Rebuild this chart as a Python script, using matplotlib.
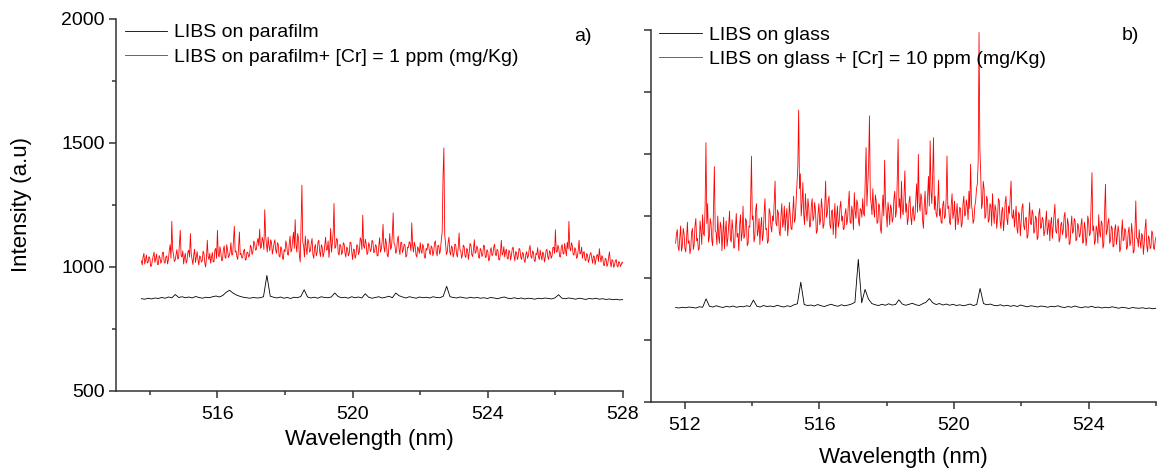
import numpy as np
import matplotlib.pyplot as plt

plt.rcParams['font.family'] = ['Liberation Sans', 'DejaVu Sans']

# a) parafilm spectra, 513.75 - 528 nm
wl_a_range = (513.75, 528.0)
red_a = [
    1025, 1008, 1040, 1055, 1012, 1030, 1048, 1016, 1020, 1042, 1035, 1002, 1005, 1028, 1044, 1060, 1018, 1035, 1052, 1010,
    1010, 1046, 1038, 1015, 1022, 1058, 1060, 1020, 1015, 1040, 1045, 1012, 1030, 1066, 1090, 1035, 1184, 1070, 1050, 1022,
    1028, 1050, 1070, 1032, 1035, 1090, 1148, 1045, 1040, 1065, 1012, 1038, 1055, 1015, 1025, 1060, 1068, 1040, 1135, 1052,
    1030, 1010, 1050, 1072, 1018, 1040, 1062, 1028, 1008, 1045, 1040, 1020, 1025, 1064, 1055, 1018, 1000, 1035, 1108, 1042,
    1030, 1055, 1015, 1040, 1058, 1020, 1022, 1068, 1075, 1035, 1148, 1050, 1040, 1082, 1060, 1025, 1028, 1070, 1085, 1040,
    1035, 1090, 1070, 1038, 1045, 1062, 1098, 1048, 1050, 1110, 1164, 1060, 1065, 1042, 1030, 1075, 1141, 1050, 1055, 1035,
    1040, 1065, 1072, 1028, 1030, 1060, 1058, 1040, 1045, 1088, 1080, 1050, 1062, 1105, 1095, 1068, 1070, 1100, 1115, 1085,
    1153, 1075, 1080, 1120, 1105, 1070, 1231, 1130, 1090, 1060, 1120, 1085, 1065, 1110, 1100, 1052, 1072, 1095, 1110, 1068,
    1055, 1098, 1090, 1045, 1040, 1082, 1075, 1035, 1030, 1070, 1062, 1105, 1088, 1050, 1048, 1095, 1125, 1060, 1070, 1110,
    1140, 1075, 1191, 1090, 1060, 1135, 1115, 1045, 1020, 1170, 1330, 1100, 1085, 1040, 1125, 1078, 1050, 1112, 1100, 1060,
    1065, 1095, 1115, 1050, 1035, 1078, 1090, 1045, 1058, 1100, 1108, 1062, 1042, 1090, 1080, 1040, 1055, 1085, 1120, 1068,
    1070, 1105, 1038, 1080, 1155, 1060, 1095, 1140, 1256, 1075, 1080, 1115, 1110, 1055, 1048, 1092, 1085, 1050, 1060, 1098,
    1092, 1055, 1040, 1080, 1075, 1045, 1055, 1100, 1098, 1060, 1030, 1072, 1070, 1035, 1048, 1090, 1085, 1050, 1062, 1118,
    1110, 1070, 1209, 1085, 1075, 1112, 1095, 1050, 1058, 1098, 1088, 1062, 1070, 1108, 1102, 1058, 1060, 1090, 1085, 1045,
    1045, 1085, 1118, 1060, 1072, 1105, 1172, 1080, 1060, 1115, 1095, 1048, 1040, 1090, 1135, 1070, 1080, 1128, 1218, 1095,
    1090, 1055, 1062, 1110, 1125, 1072, 1050, 1098, 1100, 1058, 1070, 1092, 1088, 1040, 1045, 1080, 1078, 1102, 1095, 1065,
    1178, 1088, 1060, 1100, 1085, 1048, 1040, 1082, 1072, 1055, 1098, 1065, 1055, 1092, 1080, 1040, 1035, 1075, 1068, 1095,
    1090, 1058, 1050, 1085, 1078, 1045, 1062, 1098, 1105, 1060, 1045, 1088, 1085, 1052, 1070, 1112, 1140, 1365, 1480, 1130,
    1095, 1050, 1060, 1098, 1120, 1062, 1048, 1085, 1078, 1040, 1055, 1092, 1090, 1052, 1040, 1078, 1137, 1070, 1065, 1035,
    1050, 1088, 1082, 1045, 1038, 1075, 1070, 1030, 1058, 1095, 1088, 1050, 1042, 1070, 1110, 1055, 1060, 1085, 1075, 1040,
    1035, 1075, 1068, 1042, 1050, 1088, 1085, 1038, 1040, 1070, 1062, 1025, 1030, 1066, 1078, 1045, 1052, 1080, 1092, 1050,
    1045, 1072, 1065, 1030, 1028, 1060, 1108, 1048, 1055, 1082, 1040, 1062, 1072, 1035, 1032, 1068, 1060, 1028, 1048, 1075,
    1080, 1045, 1025, 1062, 1058, 1030, 1042, 1075, 1070, 1040, 1030, 1058, 1055, 1028, 1018, 1050, 1062, 1035, 1045, 1072,
    1087, 1042, 1035, 1065, 1060, 1025, 1022, 1055, 1050, 1078, 1040, 1030, 1068, 1045, 1028, 1060, 1055, 1020, 1038, 1066,
    1072, 1040, 1030, 1065, 1058, 1035, 1045, 1078, 1080, 1055, 1150, 1062, 1060, 1088, 1075, 1042, 1040, 1082, 1090, 1055,
    1052, 1095, 1068, 1045, 1100, 1072, 1184, 1080, 1065, 1098, 1085, 1050, 1048, 1078, 1070, 1035, 1040, 1068, 1108, 1052,
    1055, 1080, 1035, 1058, 1062, 1030, 1025, 1055, 1048, 1018, 1030, 1052, 1058, 1035, 1015, 1045, 1042, 1010, 1028, 1048,
    1050, 1022, 1074, 1040, 1020, 1046, 1038, 1008, 1005, 1035, 1030, 1002, 1012, 1040, 1061, 1020, 1000, 1030, 1025, 998,
    1008, 1026, 1030, 1004, 1000, 1022, 1018, 1002, 1010, 1020, 1015,
]
black_a = [
    872, 870, 874, 871, 875, 873, 877, 874, 879, 876, 889, 877, 880, 876, 879, 875, 881, 877, 874, 878,
    876, 880, 883, 879, 885, 898, 906, 895, 887, 882, 878, 876, 874, 877, 875, 876, 880, 966, 882, 878,
    875, 879, 874, 877, 873, 878, 876, 881, 908, 879, 875, 878, 874, 880, 877, 876, 879, 895, 881, 876,
    878, 874, 880, 876, 879, 875, 892, 878, 874, 877, 880, 875, 878, 882, 876, 895, 884, 879, 875, 880,
    877, 874, 879, 876, 878, 875, 880, 877, 876, 882, 922, 880, 877, 875, 879, 876, 874, 878, 875, 877,
    874, 876, 873, 877, 875, 872, 876, 879, 874, 873, 876, 872, 875, 871, 874, 873, 870, 874, 872, 875,
    873, 871, 876, 888, 874, 872, 875, 873, 870, 874, 872, 869, 873, 871, 874, 870, 872, 869, 871, 868,
    870, 867, 869,
]

# b) glass spectra, 511.73 - 526 nm
wl_b_range = (511.73, 526.0)
red_b = [
    1140, 1178, 1195, 1125, 1110, 1165, 1210, 1108, 1130, 1200, 1180, 1120, 1105, 1160, 1225, 1140, 1150, 1098, 1120, 1185,
    1200, 1115, 1135, 1210, 1240, 1150, 1160, 1112, 1118, 1230, 1190, 1135, 1255, 1180, 1170, 1290, 1546, 1220, 1300, 1145,
    1165, 1240, 1220, 1150, 1130, 1280, 1449, 1190, 1185, 1135, 1250, 1170, 1140, 1225, 1205, 1110, 1175, 1245, 1118, 1190,
    1230, 1128, 1160, 1215, 1270, 1155, 1145, 1235, 1195, 1120, 1125, 1200, 1260, 1165, 1180, 1110, 1215, 1255, 1150, 1185,
    1290, 1160, 1170, 1240, 1230, 1130, 1140, 1210, 1205, 1300, 1491, 1235, 1250, 1145, 1165, 1275, 1300, 1170, 1190, 1240,
    1135, 1205, 1245, 1150, 1175, 1260, 1320, 1195, 1200, 1140, 1150, 1280, 1265, 1210, 1185, 1250, 1230, 1305, 1391, 1220,
    1210, 1275, 1260, 1185, 1170, 1250, 1300, 1205, 1225, 1290, 1190, 1245, 1280, 1170, 1215, 1305, 1250, 1200, 1195, 1265,
    1330, 1225, 1240, 1310, 1380, 1450, 1677, 1360, 1420, 1250, 1300, 1385, 1255, 1215, 1340, 1270, 1230, 1320, 1285, 1205,
    1210, 1290, 1320, 1230, 1245, 1305, 1270, 1180, 1190, 1260, 1300, 1215, 1235, 1320, 1280, 1200, 1215, 1290, 1391, 1245,
    1260, 1310, 1330, 1215, 1200, 1270, 1275, 1175, 1240, 1300, 1160, 1245, 1290, 1205, 1225, 1285, 1310, 1230, 1250, 1195,
    1200, 1260, 1280, 1215, 1235, 1300, 1350, 1225, 1220, 1290, 1265, 1195, 1344, 1270, 1240, 1315, 1300, 1230, 1210, 1280,
    1275, 1245, 1320, 1260, 1250, 1400, 1526, 1290, 1380, 1460, 1654, 1330, 1300, 1255, 1360, 1280, 1245, 1335, 1310, 1220,
    1225, 1300, 1290, 1200, 1180, 1265, 1335, 1250, 1475, 1310, 1260, 1205, 1305, 1270, 1215, 1295, 1280, 1225, 1240, 1320,
    1350, 1245, 1270, 1400, 1560, 1285, 1320, 1240, 1390, 1275, 1255, 1330, 1432, 1265, 1300, 1215, 1240, 1310, 1330, 1250,
    1215, 1275, 1290, 1230, 1250, 1320, 1380, 1265, 1499, 1300, 1270, 1340, 1320, 1235, 1200, 1290, 1350, 1255, 1260, 1330,
    1410, 1290, 1553, 1350, 1300, 1420, 1566, 1275, 1330, 1260, 1245, 1305, 1395, 1250, 1280, 1225, 1220, 1295, 1310, 1240,
    1250, 1320, 1492, 1280, 1290, 1225, 1215, 1295, 1340, 1240, 1265, 1310, 1195, 1260, 1300, 1215, 1240, 1285, 1280, 1205,
    1220, 1300, 1330, 1250, 1255, 1315, 1290, 1235, 1350, 1280, 1459, 1300, 1270, 1220, 1235, 1290, 1310, 1360, 1380, 1470,
    1990, 1520, 1420, 1280, 1300, 1390, 1360, 1240, 1250, 1330, 1315, 1225, 1235, 1300, 1290, 1210, 1340, 1265, 1220, 1295,
    1275, 1200, 1245, 1320, 1310, 1230, 1200, 1270, 1285, 1190, 1235, 1305, 1330, 1240, 1215, 1290, 1260, 1330, 1391, 1250,
    1240, 1275, 1205, 1250, 1290, 1200, 1180, 1265, 1255, 1170, 1225, 1285, 1300, 1210, 1195, 1240, 1245, 1160, 1170, 1230,
    1304, 1220, 1215, 1275, 1260, 1180, 1190, 1250, 1240, 1155, 1165, 1260, 1280, 1200, 1205, 1245, 1235, 1170, 1185, 1225,
    1270, 1175, 1200, 1235, 1150, 1220, 1245, 1160, 1210, 1255, 1297, 1190, 1180, 1230, 1240, 1145, 1160, 1215, 1225, 1175,
    1195, 1250, 1265, 1160, 1170, 1240, 1215, 1135, 1140, 1205, 1250, 1180, 1190, 1240, 1230, 1150, 1155, 1220, 1210, 1165,
    1175, 1215, 1240, 1140, 1145, 1225, 1200, 1130, 1165, 1250, 1230, 1170, 1180, 1300, 1425, 1190, 1210, 1135, 1150, 1210,
    1195, 1140, 1255, 1185, 1165, 1230, 1220, 1120, 1135, 1270, 1378, 1175, 1190, 1225, 1240, 1140, 1150, 1210, 1200, 1125,
    1130, 1195, 1215, 1135, 1165, 1210, 1185, 1105, 1120, 1175, 1235, 1150, 1155, 1200, 1190, 1115, 1125, 1185, 1205, 1130,
    1145, 1220, 1175, 1100, 1110, 1190, 1311, 1160, 1160, 1125, 1195, 1150, 1120, 1180, 1170, 1095, 1140, 1200, 1237, 1130,
    1105, 1170, 1160, 1118, 1125, 1190, 1180, 1120, 1115, 1150, 1165,
]
black_b = [
    881, 879, 882, 880, 883, 881, 879, 884, 882, 916, 886, 883, 888, 884, 881, 886, 883, 887, 882, 885,
    884, 888, 885, 911, 886, 883, 889, 885, 887, 884, 890, 886, 883, 888, 885, 892, 896, 983, 893, 889,
    891, 887, 893, 888, 885, 890, 894, 889, 886, 892, 888, 891, 895, 902, 1075, 900, 954, 915, 897, 892,
    889, 894, 890, 896, 891, 893, 912, 895, 890, 894, 898, 892, 889, 896, 902, 917, 900, 893, 897, 891,
    895, 890, 894, 889, 892, 888, 891, 895, 889, 893, 958, 897, 892, 895, 890, 888, 892, 887, 890, 886,
    889, 885, 891, 887, 884, 888, 886, 883, 887, 885, 882, 886, 884, 888, 883, 881, 885, 882, 887, 883,
    880, 884, 882, 886, 881, 883, 879, 882, 880, 884, 881, 878, 882, 880, 877, 881, 879, 878, 880, 877,
    879, 876, 878,
]

labels_a = ['LIBS on parafilm', 'LIBS on parafilm+ [Cr] = 1 ppm (mg/Kg)']
labels_b = ['LIBS on glass', 'LIBS on glass + [Cr] = 10 ppm (mg/Kg)']

spine_col = '#333333'


def style_axis(ax):
    for s in ['top', 'right']:
        ax.spines[s].set_visible(False)
    for s in ['left', 'bottom']:
        ax.spines[s].set_color(spine_col)
        ax.spines[s].set_linewidth(1.1)
    ax.tick_params(which='major', direction='out', length=5, width=1.1,
                   color=spine_col, labelsize=14, pad=6)
    ax.tick_params(which='minor', direction='out', length=3, width=1.1,
                   color=spine_col)
    ax.tick_params(axis='y', which='major', pad=3)


fig = plt.figure(figsize=(11.58, 4.71), dpi=100)
ax_a = fig.add_axes([0.1002, 0.1699, 0.4378, 0.7898])
ax_b = fig.add_axes([0.5622, 0.1465, 0.4361, 0.7898])

# panel a
x = np.linspace(wl_a_range[0], wl_a_range[1], len(black_a))
ax_a.plot(x, black_a, color='black', lw=0.6, label=labels_a[0])
x = np.linspace(wl_a_range[0], wl_a_range[1], len(red_a))
ax_a.plot(x, red_a, color='red', lw=0.6, label=labels_a[1])
ax_a.set_xlim(513, 528)
ax_a.set_ylim(500, 2000)
ax_a.set_xticks([516, 520, 524, 528])
ax_a.set_xticks([514, 518, 522, 526], minor=True)
ax_a.set_yticks([500, 1000, 1500, 2000])
ax_a.set_yticks([750, 1250, 1750], minor=True)
style_axis(ax_a)
ax_a.legend(loc='upper left', bbox_to_anchor=(0.0168, 0.987), frameon=False,
            fontsize=14, handlelength=2.2, handletextpad=0.35,
            labelspacing=0.35, borderpad=0, borderaxespad=0)
ax_a.text(0.921, 0.952, 'a)', transform=ax_a.transAxes, fontsize=14,
          ha='center', va='center')

# panel b
x = np.linspace(wl_b_range[0], wl_b_range[1], len(black_b))
ax_b.plot(x, black_b, color='black', lw=0.6, label=labels_b[0])
x = np.linspace(wl_b_range[0], wl_b_range[1], len(red_b))
ax_b.plot(x, red_b, color='red', lw=0.6, label=labels_b[1])
ax_b.set_xlim(511, 526)
ax_b.set_ylim(500, 2000)
ax_b.set_xticks([512, 516, 520, 524])
ax_b.set_xticks([514, 518, 522, 526], minor=True)
ax_b.set_yticks(np.arange(500, 2001, 250))
ax_b.set_yticklabels([])
style_axis(ax_b)
ax_b.legend(loc='upper left', bbox_to_anchor=(0.016, 1.011), frameon=False,
            fontsize=14, handlelength=2.2, handletextpad=0.35,
            labelspacing=0.35, borderpad=0, borderaxespad=0)
ax_b.text(0.949, 0.984, 'b)', transform=ax_b.transAxes, fontsize=14,
          ha='center', va='center')

fig.text(22 / 1158, 1 - 205 / 471, 'Intensity (a.u)', rotation=90,
         fontsize=16, ha='center', va='center')
fig.text(369.5 / 1158, 1 - 440 / 471, 'Wavelength (nm)', fontsize=16,
         ha='center', va='center')
fig.text(903.5 / 1158, 1 - 457 / 471, 'Wavelength (nm)', fontsize=16,
         ha='center', va='center')

fig.savefig('out.png', dpi=100)
